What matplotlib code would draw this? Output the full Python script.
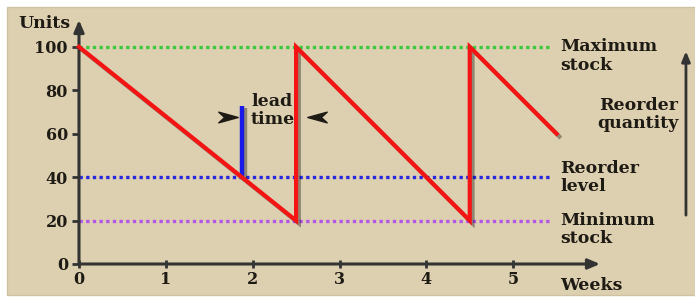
import matplotlib
matplotlib.use("Agg")
import matplotlib.pyplot as plt
import matplotlib.patheffects as pe
from matplotlib.patches import Rectangle
from matplotlib.path import Path

# stock level (sawtooth)
weeks = [0, 2.5, 2.5, 4.5, 4.5, 5.5]
units = [100, 20, 100, 20, 100, 60]

max_stock = 100
reorder_level = 40
min_stock = 20
level_end = 5.43

lead_x = 1.875
lead_top = 73

x_ticks = [0, 1, 2, 3, 4, 5]
y_ticks = [0, 20, 40, 60, 80, 100]

bg = "#ddd0b0"
axis_col = "#333333"
font = dict(family="DejaVu Serif", weight="bold", color="#1e1a14")
fs = 12.5

fig = plt.figure(figsize=(6.95, 3.0), dpi=100)
fig.patch.set_facecolor("white")
fig.patches.append(Rectangle((7 / 695, 5 / 300), 688 / 695, 288 / 300,
                             transform=fig.transFigure, facecolor=bg,
                             edgecolor="#cfc2a2", lw=1, zorder=-1))

ax = fig.add_axes([79 / 695, 36 / 300, 521 / 695, 244 / 300])
ax.set_zorder(2)
ax.set_facecolor("none")
ax.set_xlim(0, 6.0)
ax.set_ylim(0, 112.4)
for s in ax.spines.values():
    s.set_visible(False)

shadow = [pe.SimpleLineShadow(offset=(2, -2), shadow_color="k", alpha=0.35), pe.Normal()]

# axes with arrows
ax.annotate("", xy=(6.0, 0), xytext=(0, 0), annotation_clip=False,
            arrowprops=dict(arrowstyle="-|>,head_length=0.7,head_width=0.3",
                            color=axis_col, lw=2.2, shrinkA=0, shrinkB=0))
ax.annotate("", xy=(0, 112.4), xytext=(0, 0), annotation_clip=False,
            arrowprops=dict(arrowstyle="-|>,head_length=0.7,head_width=0.3",
                            color=axis_col, lw=2.2, shrinkA=0, shrinkB=0))

ax.set_xticks(x_ticks)
ax.set_yticks(y_ticks)
ax.tick_params(axis="x", direction="inout", length=6, width=2, color=axis_col, pad=2)
ax.tick_params(axis="y", direction="out", length=5, width=2, color=axis_col, pad=3)
for lab in ax.get_xticklabels() + ax.get_yticklabels():
    lab.set_fontfamily("DejaVu Serif")
    lab.set_fontweight("bold")
    lab.set_fontsize(11.5)
    lab.set_color("#1e1a14")

# level lines
ax.plot([0, level_end], [max_stock] * 2, color="#3dc83d", lw=2.4, ls=(0, (1, 1)), zorder=2)
ax.plot([0, level_end], [reorder_level] * 2, color="#2828e0", lw=2.4, ls=(0, (1, 1)), zorder=2)
ax.plot([0, level_end], [min_stock] * 2, color="#b455e8", lw=2.4, ls=(0, (1, 1)), zorder=2)

# lead time marker
ax.plot([lead_x, lead_x], [reorder_level, lead_top], color="#1a1ae8", lw=3.2,
        solid_capstyle="butt", path_effects=shadow, zorder=3)

# stock level
ax.plot(weeks, units, color="#f41414", lw=3, solid_joinstyle="miter",
        path_effects=shadow, zorder=4, clip_on=False)

# lead time arrows
head = Path([(1, 0), (-1, 0.55), (-0.4, 0), (-1, -0.55), (1, 0)],
            [Path.MOVETO, Path.LINETO, Path.LINETO, Path.LINETO, Path.CLOSEPOLY])
head_l = Path([(-x, y) for x, y in head.vertices], head.codes)
ax.plot([1.72], [67.7], marker=head, ms=14, color="#1e1a14", ls="none")
ax.plot([2.74], [67.7], marker=head_l, ms=14, color="#1e1a14", ls="none")
ax.text(1.98, 79, "lead\ntime", ha="left", va="top", fontsize=fs,
        linespacing=1.1, **font)

# labels
ax.text(-0.1, 111, "Units", ha="right", va="center", fontsize=fs, **font)
ax.text(5.54, -10, "Weeks", ha="left", va="center", fontsize=fs, **font, clip_on=False)
ax.text(5.54, 104, "Maximum\nstock", ha="left", va="top", fontsize=fs, linespacing=1.12, **font)
ax.text(5.54, 48, "Reorder\nlevel", ha="left", va="top", fontsize=fs, linespacing=1.12, **font)
ax.text(5.54, 24, "Minimum\nstock", ha="left", va="top", fontsize=fs, linespacing=1.12, **font)
ax.text(6.9, 77, "Reorder\nquantity", ha="right", va="top", fontsize=fs, linespacing=1.1, **font)

ax.annotate("", xy=(6.99, 98), xytext=(6.99, 22.5), annotation_clip=False,
            arrowprops=dict(arrowstyle="-|>,head_length=0.6,head_width=0.25",
                            color=axis_col, lw=2, shrinkA=0, shrinkB=0))

fig.savefig("out.png", dpi=100, facecolor=fig.get_facecolor())
